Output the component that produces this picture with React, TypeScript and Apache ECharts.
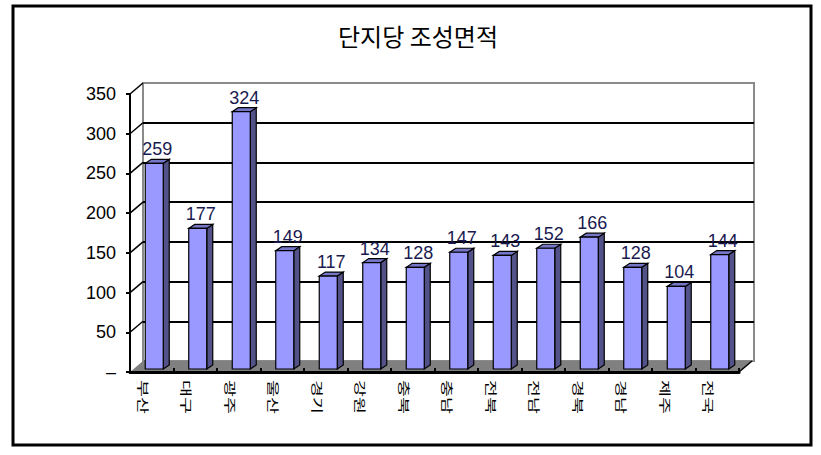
import React, { useEffect, useRef } from "react";
import * as echarts from "echarts";

const TITLE = "단지당 조성면적";
const CATEGORIES = ["부산", "대구", "광주", "울산", "경기", "강원", "충북", "충남", "전북", "전남", "경북", "경남", "제주", "전국"];
const VALUES = [259, 177, 324, 149, 117, 134, 128, 147, 143, 152, 166, 128, 104, 144];
const Y_MIN = 0;
const Y_MAX = 350;
const Y_STEP = 50;
const Y_TICKS = [0, 50, 100, 150, 200, 250, 300, 350];

const FRONT = "#9999ff";
const SIDE = "#525288";
const TOP = "#7676c8";
const FLOOR = "#808080";
const WALL_DX = 13;
const WALL_DY = -11;

export default function App() {
  const ref = useRef<HTMLDivElement>(null);
  useEffect(() => {
    if (!ref.current) return;
    const chart = echarts.init(ref.current, null, { renderer: "svg" });
    const num = "'Liberation Sans', Arial, sans-serif";
    const kr = "'Noto Sans CJK KR', sans-serif";
    const option: any = {
      animation: false,
      backgroundColor: "#ffffff",
      title: {
        text: TITLE,
        left: 413,
        textAlign: "center",
        top: 18,
        textStyle: { fontSize: 24, fontWeight: "normal", fontFamily: kr, color: "#000" },
      },
      graphic: [
        {
          type: "rect",
          shape: { x: 13, y: 6, width: 798, height: 439 },
          style: { fill: "none", stroke: "#000", lineWidth: 3 },
          z: 100,
        },
      ],
      grid: [
        { left: 130, top: 94, width: 609, height: 278 },
        { left: 143, top: 83, width: 611, height: 278, show: true, borderColor: "#8a8a8a", borderWidth: 2, backgroundColor: "transparent" },
        { left: 121, top: 94, width: 609, height: 278 },
      ],
      xAxis: [
        {
          gridIndex: 0,
          type: "category",
          data: CATEGORIES,
          z: 5,
          axisLine: { show: true, lineStyle: { color: "#000", width: 3 } },
          axisTick: { show: true, inside: true, length: 4, lineStyle: { color: "#000", width: 2 } },
          axisLabel: { show: false },
          splitLine: { show: false },
        },
        { gridIndex: 1, type: "category", data: CATEGORIES, show: false },
        { gridIndex: 2, type: "category", data: CATEGORIES, show: false },
      ],
      yAxis: [
        {
          gridIndex: 0,
          type: "value",
          min: Y_MIN,
          max: Y_MAX,
          interval: Y_STEP,
          z: 5,
          axisLine: { show: true, lineStyle: { color: "#000", width: 2 } },
          axisTick: { show: true, length: 4, lineStyle: { color: "#000", width: 2 } },
          axisLabel: {
            margin: 14,
            fontSize: 18,
            fontFamily: num,
            color: "#000",
            formatter: (v: number) => (v === 0 ? "–" : String(v)),
          },
          splitLine: { show: false },
        },
        {
          gridIndex: 1,
          type: "value",
          min: Y_MIN,
          max: Y_MAX,
          interval: Y_STEP,
          axisLine: { show: false },
          axisTick: { show: false },
          axisLabel: { show: false },
          splitLine: { show: true, showMinLine: false, showMaxLine: false, lineStyle: { color: "#000", width: 2 } },
        },
        { gridIndex: 2, type: "value", min: Y_MIN, max: Y_MAX, show: false },
      ],
      series: [
        {
          type: "custom",
          xAxisIndex: 0,
          yAxisIndex: 0,
          z: 1,
          silent: true,
          data: [[0, 0]],
          renderItem: (params: any, api: any) => {
            const cs = params.coordSys;
            const x = cs.x, w = cs.width;
            const yb = api.coord([0, 0])[1];
            const children: any[] = [
              {
                type: "polygon",
                shape: { points: [[x, yb], [x + w, yb], [x + w + WALL_DX, yb + WALL_DY], [x + WALL_DX, yb + WALL_DY]] },
                style: { fill: FLOOR, stroke: "none" },
              },
              {
                type: "line",
                shape: { x1: x + w, y1: yb, x2: x + w + WALL_DX, y2: yb + WALL_DY },
                style: { stroke: "#000", lineWidth: 1.5 },
              },
            ];
            Y_TICKS.forEach((t) => {
              if (t === 0) return;
              const yy = api.coord([0, t])[1];
              children.push({
                type: "line",
                shape: { x1: x, y1: yy, x2: x + WALL_DX, y2: yy + WALL_DY },
                style: { stroke: "#000", lineWidth: 1.5 },
              });
            });
            return { type: "group", children };
          },
        },
        {
          type: "custom",
          xAxisIndex: 0,
          yAxisIndex: 0,
          z: 3,
          data: VALUES.map((v, i) => [i, v]),
          encode: { x: 0, y: 1 },
          renderItem: (params: any, api: any) => {
            const idx = api.value(0);
            const v = api.value(1);
            const top = api.coord([idx, v]);
            const base = api.coord([idx, 0]);
            const bw = 18, ox = 2.5, oy = -3, dx = 6, dy = -4;
            const x0 = top[0] - bw / 2 + ox;
            const x1 = x0 + bw;
            const yt = top[1] + oy;
            const yb = base[1] + oy;
            const st = { stroke: "#000", lineWidth: 1.2 };
            return {
              type: "group",
              children: [
                { type: "polygon", shape: { points: [[x1, yb], [x1 + dx, yb + dy], [x1 + dx, yt + dy], [x1, yt]] }, style: { fill: SIDE, ...st } },
                { type: "polygon", shape: { points: [[x0, yt], [x1, yt], [x1 + dx, yt + dy], [x0 + dx, yt + dy]] }, style: { fill: TOP, ...st } },
                { type: "rect", shape: { x: x0, y: yt, width: bw, height: yb - yt }, style: { fill: FRONT, ...st } },
                {
                  type: "text",
                  style: {
                    text: String(v),
                    x: (x0 + x1 + dx) / 2,
                    y: yt + dy - 1,
                    align: "center",
                    verticalAlign: "bottom",
                    fill: "#1a1a50",
                    font: `18px ${num}`,
                  },
                },
              ],
            };
          },
        },
        {
          type: "custom",
          xAxisIndex: 2,
          yAxisIndex: 2,
          z: 4,
          silent: true,
          data: CATEGORIES.map((c, i) => [i, 0]),
          encode: { x: 0, y: 1 },
          renderItem: (params: any, api: any) => {
            const idx = api.value(0);
            const p = api.coord([idx, 0]);
            return {
              type: "text",
              x: p[0],
              y: p[1] + 8,
              rotation: -Math.PI / 2,
              scaleX: 1.15,
              scaleY: 0.78,
              style: {
                text: CATEGORIES[idx],
                x: 0,
                y: 0,
                align: "left",
                verticalAlign: "middle",
                fill: "#000",
                font: `16px ${kr}`,
              },
            };
          },
        },
      ],
    };
    chart.setOption(option);
    return () => chart.dispose();
  }, []);
  return <div ref={ref} style={{ position: "fixed", left: 0, top: 0, width: 821, height: 455 }} />;
}
